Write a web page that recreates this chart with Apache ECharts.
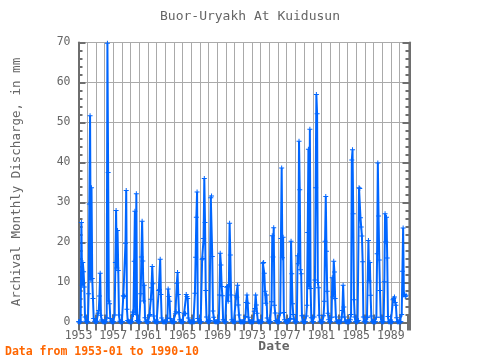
<!DOCTYPE html>
<html><head><meta charset="utf-8">
<script src="https://cdn.jsdelivr.net/npm/echarts@6/dist/echarts.min.js"></script>
<style>html,body{margin:0;padding:0;background:#fff}#c{width:480px;height:360px}</style>
</head><body><div id="c"></div><script>
const startYear = 1953;
// monthly discharge (mm), January 1953 onward
const flow1950s = [
  0.2,0.2,0.2,0.2,25,9.3,15,12.7,8.9,1.4,0.3,0.2,
  0.2,0.2,7.2,29.6,51.7,10.7,33.7,11,6,1,0.3,0.2,
  0.2,0.2,0.3,2.3,3,6.6,12.3,1.8,0.6,0.3,0.2,0.2,
  0.2,0.2,0.2,1.2,69.8,37.5,5.4,4.7,1,0.3,0.2,0.2,
  0.2,0.2,1.9,15,28,13.6,23,13,1.9,0.3,0.2,0.2,
  0.2,0.2,6.7,6.5,6.6,19.8,33,3.3,0.5,0.3,0.2,0.2,
  0.2,0.2,0.2,2.6,2,15.3,27.8,2.4,32.2,0.5,0.3,0.2
];
const flow1960s = [
  0.2,0.2,7.2,16.4,25.3,15.4,5.4,9.3,1.2,0.3,0.2,0.2,
  0.2,0.2,1.7,2,5.8,8.7,14,9.7,1.6,0.3,0.2,0.2,
  0.2,0.2,0.2,8,8.2,15.8,7,1.1,0.3,0.2,0.2,0.2,
  0.2,0.2,0.2,1.1,8.4,6.5,5.3,1,0.3,0.2,0.2,0.2,
  0.2,0.2,2.2,2.7,9.8,12.5,7,2.5,0.7,0.3,0.2,0.2,
  0.2,0.2,2.2,2.3,2.2,7,6.5,6,1.1,0.3,0.2,0.2,
  0.2,0.2,0.2,0.2,0.2,7.3,16.3,26.3,32.6,1,0.3,0.2,
  0.2,0.2,0.2,15.8,16,21,36,25,8,1.4,0.3,0.2,
  0.2,0.2,0.5,31.2,31.6,16.5,2.9,1.3,0.3,0.2,0.2,0.2,
  0.2,0.2,0.2,6.9,17.3,14.4,9,6.7,0.7,0.3,0.2,0.2
];
const flow1970s = [
  0.2,8.8,9,5.3,9.3,24.8,16.9,6.9,0.7,0.3,0.2,0.2,
  0.2,0.3,6.7,6.3,9.3,4.4,1.9,0.3,0.2,0.2,0.2,0.2,
  0.2,0.2,0.2,1.5,5,6.9,4.8,1.3,0.3,0.2,0.2,0.2,
  0.2,0.2,0.2,2.8,3.5,6.9,4.4,2.3,0.3,0.2,0.2,0.2,
  0.2,0.2,0.2,14.8,15,12.3,7.8,4.8,6.9,1.1,0.3,0.2,
  0.2,0.2,0.2,5.2,21.7,16.4,23.7,4.3,2.4,0.5,0.2,0.2,
  0.2,0.2,0.2,2.3,21,38.6,16.2,21.3,2.5,0.7,0.2,0.2,
  0.2,0.2,0.2,0.3,0.8,1,20.3,12.2,4.7,2,0.8,0.2,
  0.2,0.2,0.2,16.7,14.7,45.3,33.2,13.2,12.2,1.7,0.3,0.2,
  0.2,0.2,0.2,1.6,4.3,22.5,43.3,8.9,48.3,8.5,1.2,0.3
];
const flow1980s = [
  0.2,0.2,1.4,10.6,33.7,57,52.2,10,8.7,1.8,0.3,0.2,
  0.2,0.2,0.2,1.7,5.3,20.3,31.5,17.8,7.8,2.3,0.7,0.2,
  0.2,0.2,1.3,11.2,6.4,15.3,12.6,6,1.4,0.3,0.2,0.2,
  0.2,0.2,0.2,0.2,1.4,3,9.3,3.9,1.4,0.3,0.2,0.2,
  0.2,0.2,0.2,0.2,0.7,2,40.6,43.2,27.2,5.7,1.4,0.2,
  0.2,0.2,0.2,0.5,33.7,33.5,26.2,23.9,21.6,15.2,1.4,0.3,
  0.2,0.2,0.2,1.3,1.3,20.5,10.4,15,6.8,1.6,0.3,0.2,
  0.2,0.2,0.2,0.2,1.3,17.2,39.9,26.6,15.6,8,1.3,0.2,
  0.2,0.2,0.2,10.2,27.2,20.2,26.3,16.1,1.5,0.2,0.2,0.2,
  0.2,0.2,0.2,5.7,6,6.4,5,4.3,1.2,0.2,0.2,0.2
];
const flow1990s = [0.2,0.2,0.2,2,12.8,23.6,6.9,7,6.5,6.8];
const xTickLabels = [1953,1957,1961,1965,1969,1973,1977,1981,1985,1989];
const yTickLabels = [0,10,20,30,40,50,60,70];

const values = [].concat(flow1950s, flow1960s, flow1970s, flow1980s, flow1990s);
const seriesData = values.map((v, i) => [startYear + i / 12, v]);

const FONT = 'DejaVu Sans Mono';
const AX = '#6e6e6e';
const chart = echarts.init(document.getElementById('c'), null, {renderer: 'canvas'});
const xMin = 1953, xMax = 1991.15;
const commonX = {
  type: 'value', min: xMin, max: xMax, interval: 1,
  axisLine: {show: true, lineStyle: {color: AX, width: 2}},
  axisTick: {show: true, inside: true, length: 8, lineStyle: {color: AX, width: 2}},
};
const commonY = {
  type: 'value', min: 0, max: 70, interval: 10,
  axisLine: {show: true, lineStyle: {color: AX, width: 2}},
  axisTick: {show: true, inside: true, length: 7, lineStyle: {color: AX, width: 2}},
  minorTick: {show: true, splitNumber: 5, length: 4, lineStyle: {color: AX, width: 2}},
};
chart.setOption({
  animation: false,
  backgroundColor: '#fff',
  grid: {left: 78.5, top: 42.5, right: 70.5, bottom: 37.5},
  xAxis: [
    Object.assign({}, commonX, {
      position: 'bottom',
      splitLine: {show: true, lineStyle: {color: '#aaaaaa', width: 1}},
      axisLabel: {show: true, color: '#666', fontFamily: FONT, fontSize: 11.5, margin: 8,
        showMaxLabel: false,
        formatter: v => xTickLabels.includes(Math.round(v)) && Math.abs(v - Math.round(v)) < 1e-6 ? String(Math.round(v)) : ''}
    }),
    Object.assign({}, commonX, {
      position: 'top', splitLine: {show: false}, axisLabel: {show: false}
    })
  ],
  yAxis: [
    Object.assign({}, commonY, {
      position: 'left',
      splitLine: {show: true, lineStyle: {color: '#aaaaaa', width: 1}},
      axisLabel: {show: true, color: '#666', fontFamily: FONT, fontSize: 11.5, margin: 8,
        formatter: v => yTickLabels.includes(v) ? String(v) : ''}
    }),
    Object.assign({}, commonY, {
      position: 'right', splitLine: {show: false}, axisLabel: {show: false}
    })
  ],
  series: [{
    type: 'line',
    xAxisIndex: 0, yAxisIndex: 0,
    data: seriesData,
    showAllSymbol: true,
    symbol: 'path://M0,2H5V3H0Z M2,0H3V5H2Z',
    symbolSize: 5,
    clip: true,
    lineStyle: {color: '#0066ff', width: 2},
    itemStyle: {color: '#0066ff'}
  }],
  graphic: [
    {type: 'text', x: 250, y: 17, style: {text: 'Buor-Uryakh At Kuidusun', fill: '#666', font: '13px "DejaVu Sans Mono"', textAlign: 'center', textVerticalAlign: 'middle'}},
    {type: 'text', x: 274, y: 347, style: {text: 'Date', fill: '#666', font: 'bold 13px "DejaVu Sans Mono"', textAlign: 'center', textVerticalAlign: 'middle'}},
    {type: 'text', x: 5, y: 352, style: {text: 'Data from 1953-01 to 1990-10', fill: '#ff6600', font: 'bold 11.5px "DejaVu Sans Mono"', textAlign: 'left', textVerticalAlign: 'middle'}},
    {type: 'text', x: 17, y: 182, rotation: Math.PI / 2, style: {text: 'Archival Monthly Discharge, in mm', fill: '#666', font: '12.5px "DejaVu Sans Mono"', textAlign: 'center', textVerticalAlign: 'middle'}}
  ]
});
</script></body></html>
